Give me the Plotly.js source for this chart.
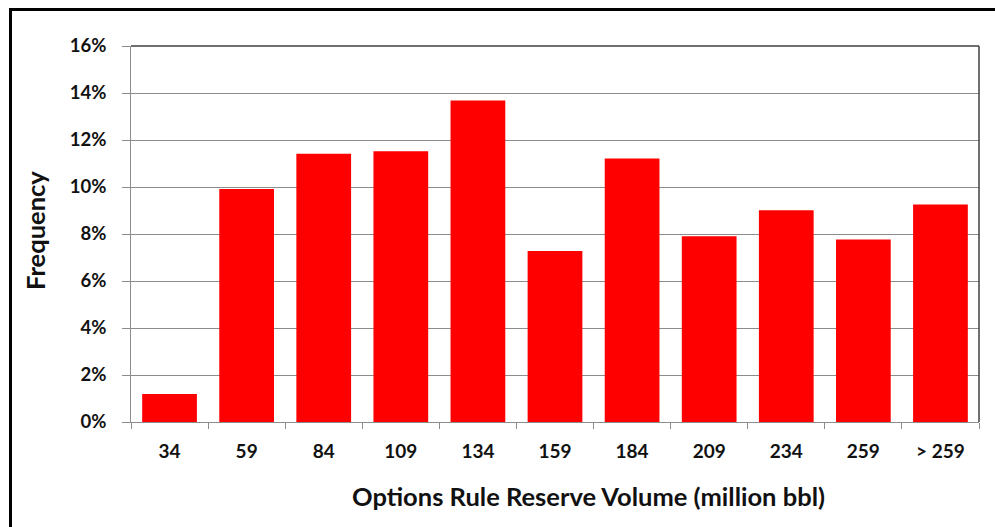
<!DOCTYPE html>
<html>
<head>
<meta charset="utf-8">
<script src="https://cdn.plot.ly/plotly-3.0.1.min.js"></script>
<style>
  html, body { margin: 0; padding: 0; background: #fff; }
  #chart { width: 995px; height: 527px; }
  /* black frame along the top and left edges of the figure */
  #frame {
    position: absolute; left: 9px; top: 8px; width: 1000px; height: 600px;
    border-top: 3px solid #000; border-left: 3px solid #000;
    pointer-events: none;
  }
</style>
</head>
<body>
<div id="chart"></div>
<div id="frame"></div>
<script>
// Reserve volume bins (million bbl) and their frequency (%)
const categories = ['34', '59', '84', '109', '134', '159', '184', '209', '234', '259', '> 259'];
const frequency = [1.19, 9.92, 11.41, 11.52, 13.68, 7.28, 11.21, 7.90, 9.01, 7.77, 9.26];
const yTicks = [0, 2, 4, 6, 8, 10, 12, 14, 16];
const yTickLabels = yTicks.map(v => v + '%');

const FONT = 'Lato, "Open Sans", sans-serif';

const trace = {
  type: 'bar',
  x: categories,
  y: frequency,
  marker: { color: '#ff0000', line: { width: 0 } },
  hoverinfo: 'x+y'
};

const layout = {
  width: 995,
  height: 527,
  margin: { l: 131, r: 16, t: 45.5, b: 104.5 },
  paper_bgcolor: '#ffffff',
  plot_bgcolor: '#ffffff',
  bargap: 0.29,
  showlegend: false,
  font: { family: FONT, color: '#111111' },
  xaxis: {
    type: 'category',
    showgrid: false,
    showline: true,
    linecolor: '#8c8c8c',
    linewidth: 1,
    ticks: 'outside',
    tickson: 'boundaries',
    ticklen: 6,
    tickcolor: '#8c8c8c',
    tickfont: { family: FONT, size: 19, color: '#111111', weight: 'bold' },
    ticklabelstandoff: 12,
    fixedrange: true
  },
  yaxis: {
    range: [0, 16],
    tickvals: yTicks,
    ticktext: yTickLabels,
    showgrid: true,
    gridcolor: '#8c8c8c',
    gridwidth: 1,
    zeroline: false,
    showline: true,
    linecolor: '#8c8c8c',
    linewidth: 1,
    ticks: 'outside',
    ticklen: 8,
    tickcolor: '#8c8c8c',
    tickfont: { family: FONT, size: 18.5, color: '#111111', weight: 'bold' },
    ticklabelstandoff: 12,
    fixedrange: true
  },
  shapes: [
    // darker plot frame on the top and right sides
    { type: 'line', xref: 'paper', yref: 'paper', x0: 0, x1: 1, y0: 1, y1: 1,
      line: { color: '#404040', width: 1.5 } },
    { type: 'line', xref: 'paper', yref: 'paper', x0: 1, x1: 1, y0: 0, y1: 1,
      line: { color: '#404040', width: 1.5 } }
  ],
  annotations: [
    { text: 'Options Rule Reserve Volume (million bbl)', xref: 'paper', yref: 'paper',
      x: 0.539, y: -0.1976, xanchor: 'center', yanchor: 'middle', showarrow: false,
      font: { family: FONT, size: 25.5, color: '#111111', weight: 'bold' } },
    { text: 'Frequency', xref: 'paper', yref: 'paper', textangle: -90,
      x: -0.1132, y: 0.508, xanchor: 'center', yanchor: 'middle', showarrow: false,
      font: { family: FONT, size: 25.5, color: '#111111', weight: 'bold' } }
  ]
};

Plotly.newPlot('chart', [trace], layout, { displayModeBar: false, staticPlot: true });
</script>
</body>
</html>
